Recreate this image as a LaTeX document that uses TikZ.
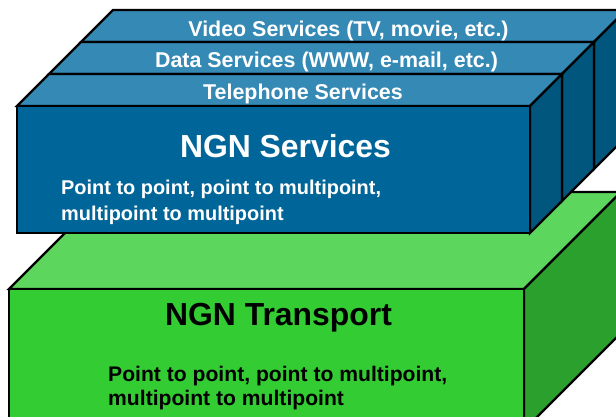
\documentclass[tikz,border=0pt]{standalone}
\usepackage{fontspec}
\setmainfont{Liberation Sans}
\begin{document}
\begin{tikzpicture}[x=1bp,y=-1bp,
  edge/.style={draw=black,line width=2.2bp,line join=miter},
  bfront/.style={edge,fill=bluefront},
  btop/.style={edge,fill=bluetop},
  bside/.style={edge,fill=blueside},
  gfront/.style={edge,fill=greenfront},
  gtop/.style={edge,fill=greentop},
  gside/.style={edge,fill=greenside},
  layertext/.style={text=white,font=\fontsize{21.5}{24}\selectfont\bfseries,inner sep=0pt,anchor=base},
  titletext/.style={font=\fontsize{32}{36}\selectfont\bfseries,inner sep=0pt,anchor=base},
  bodytext/.style={font=\fontsize{20}{24}\selectfont\bfseries,inner sep=0pt,anchor=base west},
  bodytextg/.style={font=\fontsize{21.2}{24}\selectfont\bfseries,inner sep=0pt,anchor=base west}]
\definecolor{bluefront}{RGB}{0,102,153}
\definecolor{bluetop}{RGB}{52,137,181}
\definecolor{blueside}{RGB}{0,86,125}
\definecolor{greenfront}{RGB}{51,204,51}
\definecolor{greentop}{RGB}{92,214,92}
\definecolor{greenside}{RGB}{44,160,44}
\useasboundingbox (0,0) rectangle (616,416);
\clip (0,0) rectangle (616,416);
% Green transport box
\draw[gtop] (9,289) -- (106,192) -- (621,192) -- (524,289) -- cycle;
\draw[gside] (524,289) -- (621,192) -- (621,333) -- (524,430) -- cycle;
\draw[gfront] (9,289) rectangle (524,430);
% Blue service layers, back to front
\foreach \k in {2,1,0}{
  \pgfmathsetmacro{\dx}{32*\k}
  \pgfmathsetmacro{\dy}{-32*\k}
  \begin{scope}[shift={(\dx,\dy)}]
    \draw[btop] (17,106) -- (49,74) -- (562,74) -- (530,106) -- cycle;
    \draw[bside] (530,106) -- (562,74) -- (562,201) -- (530,233) -- cycle;
    \draw[bfront] (17,106) rectangle (530,233);
  \end{scope}
}
% Texts
\node[layertext] (video) at (348.5,36) {Video Services (TV, movie, etc.)};
\node[layertext] (data) at (326.5,67) {Data Services (WWW, e-mail, etc.)};
\node[layertext] (tel) at (303,99) {Telephone Services};
\node[titletext,text=white] (ngns) at (285.5,157) {NGN Services};
\node[bodytext,text=white] (s1) at (61,194) {Point to point, point to multipoint,};
\node[bodytext,text=white] (s2) at (61,220) {multipoint to multipoint};
\node[titletext,text=black] (ngnt) at (278.5,325) {NGN Transport};
\node[bodytextg,text=black] (t1) at (108,381) {Point to point, point to multipoint,};
\node[bodytextg,text=black] (t2) at (108,405) {multipoint to multipoint};
\end{tikzpicture}
\end{document}
